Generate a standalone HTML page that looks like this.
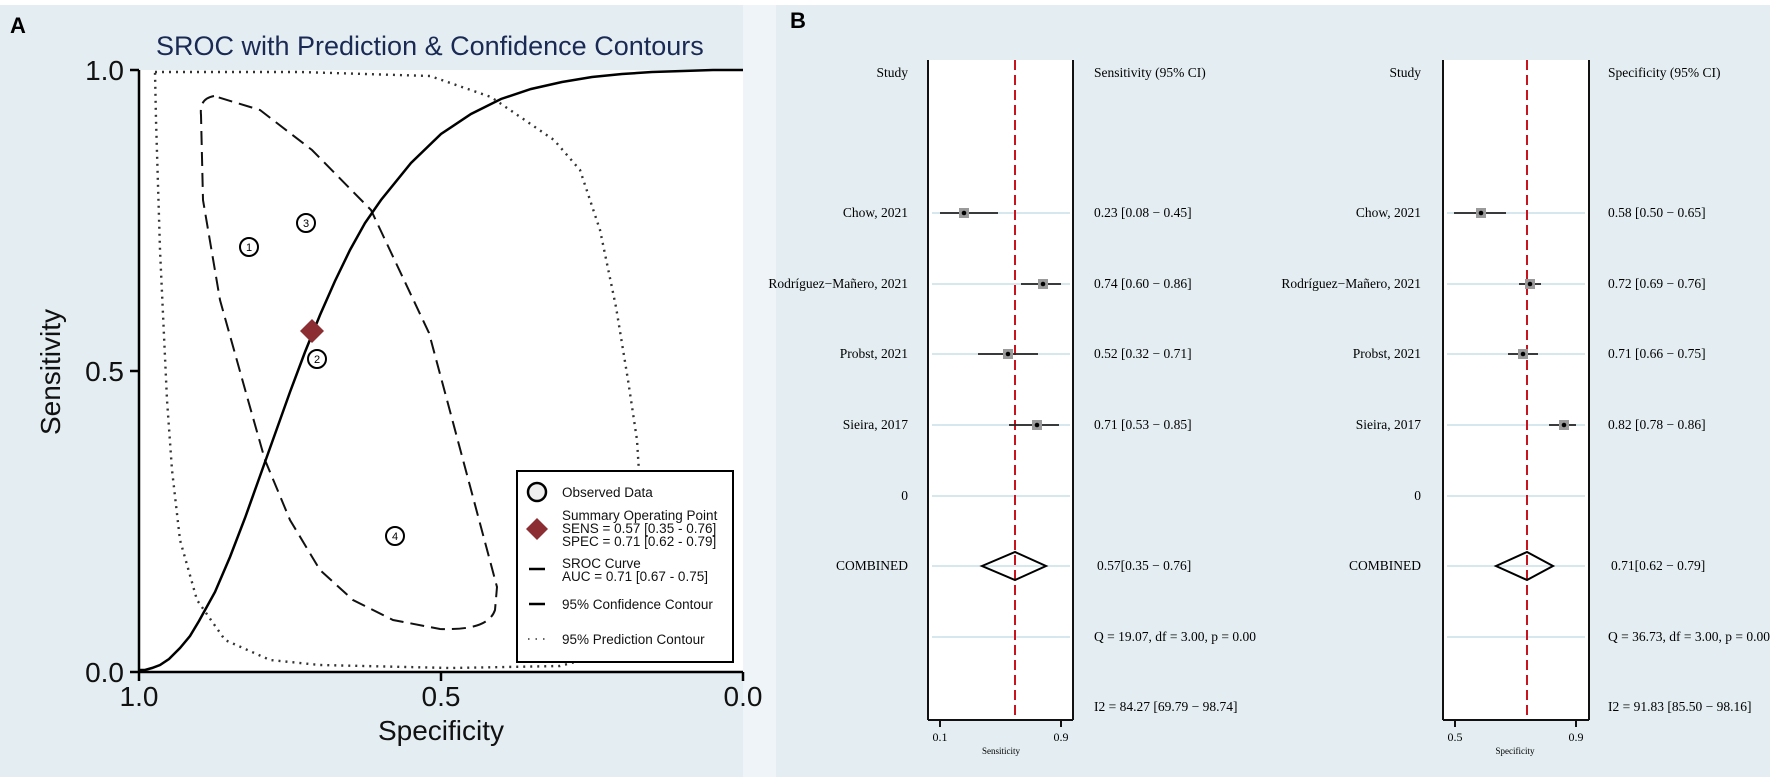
<!DOCTYPE html>
<html><head><meta charset="utf-8"><style>
html,body{margin:0;padding:0;background:#fff;}
svg{display:block;}
.s{font-family:"Liberation Sans",sans-serif;}
.t{font-family:"Liberation Serif",serif;font-size:13.5px;fill:#000;}
</style></head><body>
<svg width="1772" height="782" viewBox="0 0 1772 782" xmlns="http://www.w3.org/2000/svg">
<rect x="0" y="0" width="1772" height="782" fill="#fff"/>
<rect x="0" y="5" width="743" height="772" fill="#e4eef2"/>
<rect x="743" y="5" width="33" height="772" fill="#eef4f7"/>
<rect x="776" y="5" width="994" height="772" fill="#e4eef2"/>

<!-- Panel A -->
<text x="10" y="33" class="s" font-size="22" font-weight="bold">A</text>
<text x="156" y="55" class="s" font-size="27" fill="#1b2a55">SROC with Prediction &amp; Confidence Contours</text>
<rect x="139" y="70" width="604" height="602" fill="#fff"/>
<line x1="139" y1="70" x2="139" y2="672" stroke="#000" stroke-width="2.5"/>
<line x1="139" y1="672" x2="743" y2="672" stroke="#000" stroke-width="2.5"/>
<g stroke="#000" stroke-width="2.5">
<line x1="130" y1="70" x2="139" y2="70"/><line x1="130" y1="371" x2="139" y2="371"/><line x1="130" y1="672" x2="139" y2="672"/>
<line x1="139" y1="672" x2="139" y2="681"/><line x1="441" y1="672" x2="441" y2="681"/><line x1="743" y1="672" x2="743" y2="681"/>
</g>
<g class="s" font-size="28" fill="#111">
<text x="124" y="80" text-anchor="end">1.0</text>
<text x="124" y="381" text-anchor="end">0.5</text>
<text x="124" y="682" text-anchor="end">0.0</text>
<text x="139" y="706" text-anchor="middle">1.0</text>
<text x="441" y="706" text-anchor="middle">0.5</text>
<text x="743" y="706" text-anchor="middle">0.0</text>
<text x="441" y="740" text-anchor="middle">Specificity</text>
<text transform="translate(60,372) rotate(-90)" text-anchor="middle">Sensitivity</text>
</g>
<!-- prediction contour -->
<polyline fill="none" stroke="#333" stroke-width="2.4" stroke-dasharray="2 5" points="155,72 300,72 430,76 491,97 554,140 580,170 600,230 616,307 628,380 637,440 642,520 640,600 620,650 560,666 450,668 320,665 270,660 225,640 197,600 180,540 172,470 167,400 160,250 156,120 155,72"/>
<!-- confidence contour -->
<path fill="none" stroke="#111" stroke-width="2" stroke-dasharray="14 7" d="M214,96 C203,98 200,105 201,115 L203,200 L220,300 L248,400 L265,460 L290,520 L320,570 L353,600 L393,620 L440,629 C470,630 490,625 495,610 L497,587 L447,400 L429,333 L371,210 L312,150 L260,110 Z"/>
<!-- SROC curve -->
<polyline fill="none" stroke="#000" stroke-width="2.5" points="139,670 145,670 152,668 160,665 169,659 180,648 190,636 199,621 215,592 230,557 245,518 260,476 275,434 290,392 305,352 320,315 335,281 350,250 365,223 381,200 411,163 441,134 471,114 501,99 531,89 562,82 592,77 622,74 652,72 683,71 713,70 743,70"/>
<!-- data points -->
<g fill="#fff" stroke="#000" stroke-width="2">
<circle cx="249" cy="247" r="9"/><circle cx="306" cy="223" r="9"/><circle cx="317" cy="359" r="9"/><circle cx="395" cy="536" r="9"/>
</g>
<g class="s" font-size="11" text-anchor="middle" fill="#000">
<text x="249" y="251">1</text><text x="306" y="227">3</text><text x="317" y="363">2</text><text x="395" y="540">4</text>
</g>
<polygon points="312,319 324,331 312,343 300,331" fill="#8b2d32"/>
<!-- legend -->
<rect x="517" y="471" width="216" height="191" fill="#fff" stroke="#000" stroke-width="2"/>
<circle cx="537" cy="492" r="9" fill="#eee" stroke="#000" stroke-width="2.5"/>
<polygon points="537,518 548,529 537,540 526,529" fill="#8b2d32"/>
<line x1="529" y1="569" x2="545" y2="569" stroke="#000" stroke-width="2.5"/>
<line x1="529" y1="604" x2="545" y2="604" stroke="#000" stroke-width="2.5"/>
<line x1="528" y1="639" x2="547" y2="639" stroke="#333" stroke-width="1.5" stroke-dasharray="1.5 6"/>
<g class="s" font-size="13.5" fill="#111">
<text x="562" y="497">Observed Data</text>
<text x="562" y="520">Summary Operating Point</text>
<text x="562" y="533">SENS = 0.57 [0.35 - 0.76]</text>
<text x="562" y="546">SPEC = 0.71 [0.62 - 0.79]</text>
<text x="562" y="568">SROC Curve</text>
<text x="562" y="581">AUC = 0.71 [0.67 - 0.75]</text>
<text x="562" y="609">95% Confidence Contour</text>
<text x="562" y="644">95% Prediction Contour</text>
</g>

<!-- Panel B -->
<text x="790" y="28" class="s" font-size="22" font-weight="bold">B</text>

<!-- left forest -->
<rect x="928" y="60" width="145" height="660" fill="#fff"/>
<g stroke="#d6e7ee" stroke-width="2">
<line x1="932" y1="213" x2="1070" y2="213"/><line x1="932" y1="284" x2="1070" y2="284"/><line x1="932" y1="354" x2="1070" y2="354"/><line x1="932" y1="425" x2="1070" y2="425"/><line x1="932" y1="496" x2="1070" y2="496"/><line x1="932" y1="566" x2="1070" y2="566"/><line x1="932" y1="637" x2="1070" y2="637"/>
</g>
<line x1="928" y1="60" x2="928" y2="720" stroke="#111" stroke-width="2"/>
<line x1="1073" y1="60" x2="1073" y2="720" stroke="#111" stroke-width="2"/>
<line x1="928" y1="720" x2="1073" y2="720" stroke="#111" stroke-width="2"/>
<line x1="940" y1="720" x2="940" y2="727" stroke="#111" stroke-width="2"/>
<line x1="1061" y1="720" x2="1061" y2="727" stroke="#111" stroke-width="2"/>
<line x1="1015" y1="60" x2="1015" y2="720" stroke="#c8141e" stroke-width="2" stroke-dasharray="10 5"/>
<g stroke="#222" stroke-width="1.8">
<line x1="940" y1="213" x2="998" y2="213"/><line x1="1021" y1="284" x2="1061" y2="284"/><line x1="978" y1="354" x2="1038" y2="354"/><line x1="1009" y1="425" x2="1059" y2="425"/>
</g>
<g fill="#9a9a9a"><rect x="959" y="208" width="10" height="10"/><rect x="1038" y="279" width="10" height="10"/><rect x="1003" y="349" width="10" height="10"/><rect x="1032" y="420" width="10" height="10"/></g>
<g fill="#000"><circle cx="964" cy="213" r="2.3"/><circle cx="1043" cy="284" r="2.3"/><circle cx="1008" cy="354" r="2.3"/><circle cx="1037" cy="425" r="2.3"/></g>
<polygon points="982,566 1015,552 1046,566 1015,580" fill="none" stroke="#000" stroke-width="2"/>
<g class="t" text-anchor="end">
<text x="908" y="77">Study</text>
<text x="908" y="217">Chow, 2021</text>
<text x="908" y="288">Rodríguez−Mañero, 2021</text>
<text x="908" y="358">Probst, 2021</text>
<text x="908" y="429">Sieira, 2017</text>
<text x="908" y="500">0</text>
<text x="908" y="570">COMBINED</text>
</g>
<g class="t">
<text x="1094" y="77">Sensitivity (95% CI)</text>
<text x="1094" y="217">0.23 [0.08 − 0.45]</text>
<text x="1094" y="288">0.74 [0.60 − 0.86]</text>
<text x="1094" y="358">0.52 [0.32 − 0.71]</text>
<text x="1094" y="429">0.71 [0.53 − 0.85]</text>
<text x="1097" y="570">0.57[0.35 − 0.76]</text>
<text x="1094" y="641">Q = 19.07, df = 3.00, p =  0.00</text>
<text x="1094" y="711">I2 = 84.27 [69.79 − 98.74]</text>
<text x="940" y="741" text-anchor="middle" font-size="12">0.1</text>
<text x="1061" y="741" text-anchor="middle" font-size="12">0.9</text>
<text x="1001" y="754" text-anchor="middle" font-size="9">Sensiticity</text>
</g>

<!-- right forest -->
<rect x="1443" y="60" width="146" height="660" fill="#fff"/>
<g stroke="#d6e7ee" stroke-width="2">
<line x1="1447" y1="213" x2="1585" y2="213"/><line x1="1447" y1="284" x2="1585" y2="284"/><line x1="1447" y1="354" x2="1585" y2="354"/><line x1="1447" y1="425" x2="1585" y2="425"/><line x1="1447" y1="496" x2="1585" y2="496"/><line x1="1447" y1="566" x2="1585" y2="566"/><line x1="1447" y1="637" x2="1585" y2="637"/>
</g>
<line x1="1443" y1="60" x2="1443" y2="720" stroke="#111" stroke-width="2"/>
<line x1="1589" y1="60" x2="1589" y2="720" stroke="#111" stroke-width="2"/>
<line x1="1443" y1="720" x2="1589" y2="720" stroke="#111" stroke-width="2"/>
<line x1="1455" y1="720" x2="1455" y2="727" stroke="#111" stroke-width="2"/>
<line x1="1576" y1="720" x2="1576" y2="727" stroke="#111" stroke-width="2"/>
<line x1="1527" y1="60" x2="1527" y2="720" stroke="#c8141e" stroke-width="2" stroke-dasharray="10 5"/>
<g stroke="#222" stroke-width="1.8">
<line x1="1454" y1="213" x2="1506" y2="213"/><line x1="1519" y1="284" x2="1541" y2="284"/><line x1="1508" y1="354" x2="1538" y2="354"/><line x1="1549" y1="425" x2="1576" y2="425"/>
</g>
<g fill="#9a9a9a"><rect x="1476" y="208" width="10" height="10"/><rect x="1525" y="279" width="10" height="10"/><rect x="1518" y="349" width="10" height="10"/><rect x="1559" y="420" width="10" height="10"/></g>
<g fill="#000"><circle cx="1481" cy="213" r="2.3"/><circle cx="1530" cy="284" r="2.3"/><circle cx="1523" cy="354" r="2.3"/><circle cx="1564" cy="425" r="2.3"/></g>
<polygon points="1496,566 1527,552 1553,566 1527,580" fill="none" stroke="#000" stroke-width="2"/>
<g class="t" text-anchor="end">
<text x="1421" y="77">Study</text>
<text x="1421" y="217">Chow, 2021</text>
<text x="1421" y="288">Rodríguez−Mañero, 2021</text>
<text x="1421" y="358">Probst, 2021</text>
<text x="1421" y="429">Sieira, 2017</text>
<text x="1421" y="500">0</text>
<text x="1421" y="570">COMBINED</text>
</g>
<g class="t">
<text x="1608" y="77">Specificity (95% CI)</text>
<text x="1608" y="217">0.58 [0.50 − 0.65]</text>
<text x="1608" y="288">0.72 [0.69 − 0.76]</text>
<text x="1608" y="358">0.71 [0.66 − 0.75]</text>
<text x="1608" y="429">0.82 [0.78 − 0.86]</text>
<text x="1611" y="570">0.71[0.62 − 0.79]</text>
<text x="1608" y="641">Q = 36.73, df = 3.00, p =  0.00</text>
<text x="1608" y="711">I2 = 91.83 [85.50 − 98.16]</text>
<text x="1455" y="741" text-anchor="middle" font-size="12">0.5</text>
<text x="1576" y="741" text-anchor="middle" font-size="12">0.9</text>
<text x="1515" y="754" text-anchor="middle" font-size="9">Specificity</text>
</g>
</svg>
</body></html>
